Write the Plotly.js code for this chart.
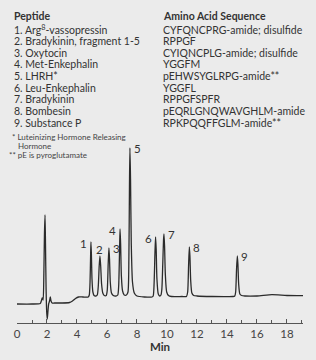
<!DOCTYPE html>
<html>
<head>
<meta charset="utf-8">
<script src="https://cdn.plot.ly/plotly-3.0.1.min.js"></script>
<style>html,body{margin:0;padding:0;background:#ebebeb;}#chart{width:316px;height:360px;}</style>
</head>
<body>
<div id="chart"></div>
<script>
// Chromatogram: retention time (min) and detector signal (arbitrary units)
const timeMin = [
  0, 1.0, 1.55, 1.62, 1.68, 1.74, 1.79, 1.83, 1.87, 1.90, 1.94, 1.98, 2.02, 2.06, 2.11, 2.17, 2.22, 2.27, 2.34, 2.5, 3.0, 3.5, 3.7, 3.9, 4.1, 4.4, 4.75,
  4.82, 4.87, 4.91, 4.93, 4.96, 5.0, 5.06, 5.14, 5.25,
  5.35, 5.42, 5.48, 5.53, 5.58, 5.64, 5.72, 5.82,
  5.95, 6.02, 6.08, 6.13, 6.17, 6.22, 6.3, 6.42, 6.6,
  6.72, 6.78, 6.84, 6.87, 6.91, 6.96, 7.04, 7.15, 7.3,
  7.4, 7.46, 7.5, 7.53, 7.57, 7.62, 7.7, 7.82, 8.0, 8.5, 9.0,
  9.08, 9.14, 9.2, 9.24, 9.28, 9.33, 9.42, 9.52, 9.6,
  9.66, 9.72, 9.77, 9.8, 9.84, 9.89, 9.98, 10.1, 10.3, 11.0, 11.3,
  11.38, 11.44, 11.49, 11.53, 11.58, 11.66, 11.78, 12.0, 13.0, 14.4, 14.52,
  14.58, 14.64, 14.69, 14.73, 14.78, 14.86, 14.98, 15.2, 16.0, 17.0, 18.0, 19.07
];
const signal = [
  0, 0, 0.5, 3, 6, 4, 30, 70, 89, 60, 15, -8, -15, -8, 0, 3, 7, 3, 1, 1, 1, 1.5, 3, 5.5, 7, 7, 7,
  9, 22, 50, 62, 50, 25, 12, 8.5, 8,
  9, 18, 38, 48, 38, 20, 11, 8.5,
  8.5, 14, 40, 56, 45, 22, 11, 8.5, 8,
  9, 18, 55, 75, 60, 28, 13, 9, 9,
  12, 45, 120, 156, 125, 60, 22, 11, 8, 7, 7,
  8, 20, 52, 67, 55, 25, 10, 8, 9,
  15, 40, 64, 70, 58, 30, 12, 8.5, 7.5, 7.5, 7.5,
  12, 38, 57, 48, 24, 11, 8.5, 8, 7.5, 7.5, 8,
  12, 35, 48, 40, 20, 10, 8.5, 8, 8, 9.3, 8.5, 8.3
];

const peakNumbers = ['1','2','3','4','5','6','7','8','9'];
const peakTimes   = [4.93, 5.53, 6.13, 6.87, 7.53, 9.24, 9.80, 11.49, 14.69];
const peakHeights = [62, 48, 56, 75, 156, 67, 70, 57, 48];
const labelSide   = ['left','top','right','left','right','left','right','right','right'];

const peptideNames = [
  '1. Arg<sup>8</sup>-vassopressin',
  '2. Bradykinin, fragment 1-5',
  '3. Oxytocin',
  '4. Met-Enkephalin',
  '5. LHRH*',
  '6. Leu-Enkephalin',
  '7. Bradykinin',
  '8. Bombesin',
  '9. Substance P'
];
const sequences = [
  'CYFQNCPRG-amide; disulfide',
  'RPPGF',
  'CYIQNCPLG-amide; disulfide',
  'YGGFM',
  'pEHWSYGLRPG-amide**',
  'YGGFL',
  'RPPGFSPFR',
  'pEQRLGNQWAVGHLM-amide',
  'RPKPQQFFGLM-amide**'
];
const footnotes = ['* Luteinizing Hormone Releasing', 'Hormone', '** pE is pyroglutamate'];
const tickValues = [0, 2, 4, 6, 8, 10, 12, 14, 16, 18];

const FONT = 'Lato, "Open Sans", sans-serif';
const W = 316, H = 360, ML = 17, MR = 13, MT = 0, MB = 37;
const PW = W - ML - MR, PH = H - MT - MB;
const px = x => (x - ML) / PW;
const py = y => (H - MB - y) / PH;

const annotations = [];
function txt(text, x, y, size, color) {
  annotations.push({
    text: text, xref: 'paper', yref: 'paper', x: px(x), y: py(y),
    xanchor: 'left', yanchor: 'middle', showarrow: false,
    font: {family: FONT, size: size, color: color || '#333'}
  });
}
txt('<b>Peptide</b>', 12, 16, 10.5);
txt('<b>Amino Acid Sequence</b>', 161, 16, 10.5);
const lineStart = 29.5, lineStep = 11.65;
peptideNames.forEach((n, i) => txt(n, 12, lineStart + i * lineStep, 10.5));
sequences.forEach((s, i) => txt(s, 161, lineStart + i * lineStep, 10.5));
txt(footnotes[0], 10, 137, 8, '#444');
txt(footnotes[1], 16, 145.5, 8, '#444');
txt(footnotes[2], 7, 155, 8, '#444');

// peak labels positioned in data coordinates
peakNumbers.forEach((n, i) => {
  const side = labelSide[i];
  let a = {text: n, xref: 'x', yref: 'y', x: peakTimes[i], y: peakHeights[i],
    showarrow: false, font: {family: FONT, size: 11.5, color: '#333'}};
  if (side === 'left') { a.xanchor = 'right'; a.yanchor = 'middle'; a.xshift = -2; a.yshift = -1; }
  else if (side === 'right') { a.xanchor = 'left'; a.yanchor = 'middle'; a.xshift = 2; a.yshift = 0; }
  else { a.xanchor = 'center'; a.yanchor = 'bottom'; a.yshift = -2; }
  annotations.push(a);
});

const trace = {
  x: timeMin, y: signal, type: 'scatter', mode: 'lines',
  line: {color: '#2b2b2b', width: 1.3, shape: 'spline', smoothing: 0.6},
  hoverinfo: 'skip'
};

const layout = {
  width: W, height: H,
  margin: {l: ML, r: MR, t: MT, b: MB, pad: 0},
  paper_bgcolor: '#ebebeb', plot_bgcolor: '#ebebeb',
  showlegend: false,
  xaxis: {
    range: [0, 19.07], showgrid: false, zeroline: false,
    showline: true, linecolor: '#555', linewidth: 1,
    ticks: 'inside', ticklen: 4, tickcolor: '#555', tickwidth: 1,
    tickvals: tickValues, ticktext: tickValues.map(String),
    minor: {dtick: 1, ticks: 'inside', ticklen: 3, tickcolor: '#555', tick0: 0},
    tickfont: {family: FONT, size: 11.5, color: '#444'},
    title: {text: '<b>Min</b>', font: {family: FONT, size: 11.5, color: '#333'}, standoff: 3},
    fixedrange: true
  },
  yaxis: {range: [-19, 304], visible: false, fixedrange: true},
  annotations: annotations
};

Plotly.newPlot('chart', [trace], layout, {staticPlot: true, displayModeBar: false});
</script>
</body>
</html>
